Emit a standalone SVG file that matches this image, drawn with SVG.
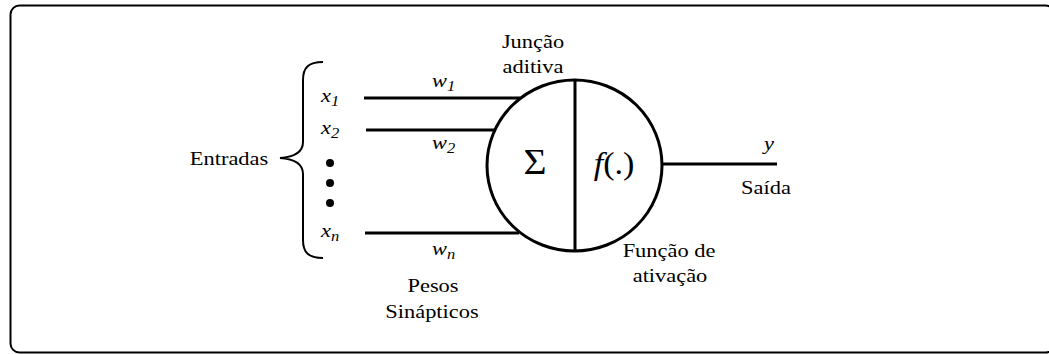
<svg xmlns="http://www.w3.org/2000/svg" width="1049" height="354" viewBox="0 0 1049 354">
<style>
.ln{stroke:#000;stroke-width:3;fill:none}
</style>
<rect x="10.5" y="5.5" width="1044" height="347" rx="9" fill="#fff" stroke="#000" stroke-width="2"/>
<g id="connectors">
<line class="ln" x1="364" y1="98" x2="520" y2="98"/>
<line class="ln" x1="366" y1="130" x2="496" y2="130"/>
<line class="ln" x1="365" y1="233" x2="519" y2="233"/>
<line class="ln" x1="662" y1="164" x2="777" y2="164"/>
</g>
<g font-family="'Liberation Serif', 'Times New Roman', serif" font-size="19" fill="#000">
<g id="brace">
<path d="M323,62 C308,62 303,68 303,80 L303,142 C303,152 294,157 280,158 C294,159 303,164 303,174 L303,240 C303,252 308,258 323,258" fill="none" stroke="#000" stroke-width="2"/>
<text transform="translate(229,165) scale(1.18,1)" text-anchor="middle">Entradas</text>
</g>
<g id="inputs" font-style="italic">
<text transform="translate(321,102) scale(1.18,1)">x<tspan font-size="14" dy="4">1</tspan></text>
<text transform="translate(321,134) scale(1.18,1)">x<tspan font-size="14" dy="4">2</tspan></text>
<circle cx="330" cy="163" r="4"/>
<circle cx="330" cy="183" r="4"/>
<circle cx="330" cy="203" r="4"/>
<text transform="translate(321,237) scale(1.18,1)">x<tspan font-size="14" dy="4">n</tspan></text>
</g>
<g id="weights">
<text transform="translate(432,87) scale(1.18,1)" font-style="italic">w<tspan font-size="14" dy="4">1</tspan></text>
<text transform="translate(432,149) scale(1.18,1)" font-style="italic">w<tspan font-size="14" dy="4">2</tspan></text>
<text transform="translate(432,255) scale(1.18,1)" font-style="italic">w<tspan font-size="14" dy="4">n</tspan></text>
<text transform="translate(433,292) scale(1.18,1)" text-anchor="middle">Pesos</text>
<text transform="translate(432,318) scale(1.18,1)" text-anchor="middle">Sinápticos</text>
</g>
<g id="neuron">
<ellipse cx="574.5" cy="165.5" rx="87.5" ry="85.5" fill="#fff" stroke="#000" stroke-width="3"/>
<line class="ln" x1="575" y1="80" x2="575" y2="251"/>
<text transform="translate(535,174) scale(1.1,1)" text-anchor="middle" font-size="36">Σ</text>
<text transform="translate(614,174) scale(1.1,1)" text-anchor="middle" font-size="31"><tspan font-style="italic">f</tspan>(.)</text>
<text transform="translate(533,48) scale(1.18,1)" text-anchor="middle">Junção</text>
<text transform="translate(533,73) scale(1.18,1)" text-anchor="middle">aditiva</text>
<text transform="translate(669,257) scale(1.18,1)" text-anchor="middle">Função de</text>
<text transform="translate(670,282) scale(1.18,1)" text-anchor="middle">ativação</text>
</g>
<g id="output">
<text transform="translate(769,150) scale(1.18,1)" text-anchor="middle" font-style="italic">y</text>
<text transform="translate(766,194) scale(1.18,1)" text-anchor="middle">Saída</text>
</g>
</g>
</svg>
